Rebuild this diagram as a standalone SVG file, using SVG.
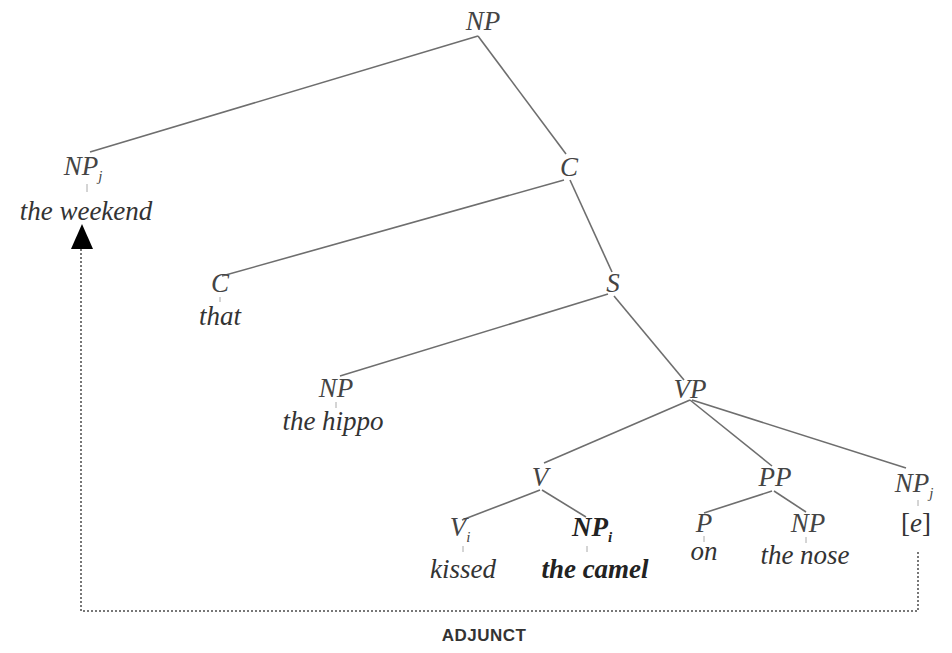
<svg xmlns="http://www.w3.org/2000/svg" width="952" height="653" viewBox="0 0 952 653">
<defs>
<style>
.lab{font-family:"Liberation Serif",serif;font-style:italic;font-size:27px;fill:#444;text-anchor:middle}
.word{font-family:"Liberation Serif",serif;font-style:italic;font-size:27px;fill:#333;text-anchor:middle}
.sub{font-size:15px}
.b{font-weight:bold;fill:#222}
.edge{stroke:#6e6e6e;stroke-width:1.6;fill:none}
.tick{stroke:#aaa;stroke-width:1}
.dot{stroke:#777;stroke-width:2;stroke-dasharray:2 2;fill:none}
.cap{font-family:"Liberation Sans",sans-serif;font-weight:bold;font-size:17px;letter-spacing:0.5px;fill:#333;text-anchor:middle}
</style>
</defs>
<rect width="952" height="653" fill="#fff"/>
<g id="connectors">
<line class="edge" x1="478" y1="36" x2="90" y2="152"/>
<line class="edge" x1="478" y1="36" x2="566" y2="154"/>
<line class="edge" x1="564" y1="180" x2="222" y2="276"/>
<line class="edge" x1="570" y1="180" x2="612" y2="272"/>
<line class="edge" x1="608" y1="294" x2="340" y2="376"/>
<line class="edge" x1="614" y1="296" x2="684" y2="380"/>
<line class="edge" x1="690" y1="400" x2="544" y2="463"/>
<line class="edge" x1="690" y1="400" x2="772" y2="466"/>
<line class="edge" x1="692" y1="400" x2="906" y2="468"/>
<line class="edge" x1="540" y1="490" x2="462" y2="520"/>
<line class="edge" x1="542" y1="490" x2="586" y2="517"/>
<line class="edge" x1="772" y1="491" x2="704" y2="513"/>
<line class="edge" x1="774" y1="491" x2="806" y2="512"/>
<path class="dot" d="M918,552 V611 H81 V248"/>
<polygon points="82,224 71,249 93,249" fill="#000"/>
</g>
<g id="n-np-root"><text class="lab" x="483" y="30">NP</text></g>
<g id="n-np-j"><text class="lab" x="83" y="175">NP<tspan class="sub" dy="6">j</tspan></text><line class="tick" x1="87" y1="184" x2="87" y2="192"/><text class="word" x="86" y="220">the weekend</text></g>
<g id="n-c1"><text class="lab" x="569" y="176">C</text></g>
<g id="n-c2"><text class="lab" x="220" y="292">C</text><line class="tick" x1="220" y1="297" x2="220" y2="302"/><text class="word" x="220" y="325">that</text></g>
<g id="n-s"><text class="lab" x="613" y="292">S</text></g>
<g id="n-np-hippo"><text class="lab" x="336" y="397">NP</text><line class="tick" x1="336" y1="402" x2="336" y2="408"/><text class="word" x="333" y="430">the hippo</text></g>
<g id="n-vp"><text class="lab" x="690" y="398">VP</text></g>
<g id="n-v"><text class="lab" x="540" y="486">V</text></g>
<g id="n-v-i"><text class="lab" x="460" y="536">V<tspan class="sub" dy="6">i</tspan></text><line class="tick" x1="463" y1="546" x2="463" y2="552"/><text class="word" x="463" y="578">kissed</text></g>
<g id="n-np-i"><text class="lab b" x="592" y="536">NP<tspan class="sub" dy="6">i</tspan></text><line class="tick" x1="587" y1="546" x2="587" y2="552"/><text class="word b" x="595" y="578">the camel</text></g>
<g id="n-pp"><text class="lab" x="775" y="486">PP</text></g>
<g id="n-p"><text class="lab" x="704" y="532">P</text><line class="tick" x1="704" y1="536" x2="704" y2="542"/><text class="word" x="704" y="560">on</text></g>
<g id="n-np-nose"><text class="lab" x="808" y="532">NP</text><line class="tick" x1="806" y1="537" x2="806" y2="543"/><text class="word" x="805" y="564">the nose</text></g>
<g id="n-np-j2"><text class="lab" x="914" y="492">NP<tspan class="sub" dy="6">j</tspan></text><line class="tick" x1="918" y1="500" x2="918" y2="506"/><text class="word" x="916" y="532" style="font-style:normal">[<tspan style="font-style:italic">e</tspan>]</text></g>
<g id="n-adjunct"><text class="cap" x="484" y="641">ADJUNCT</text></g>
</svg>
